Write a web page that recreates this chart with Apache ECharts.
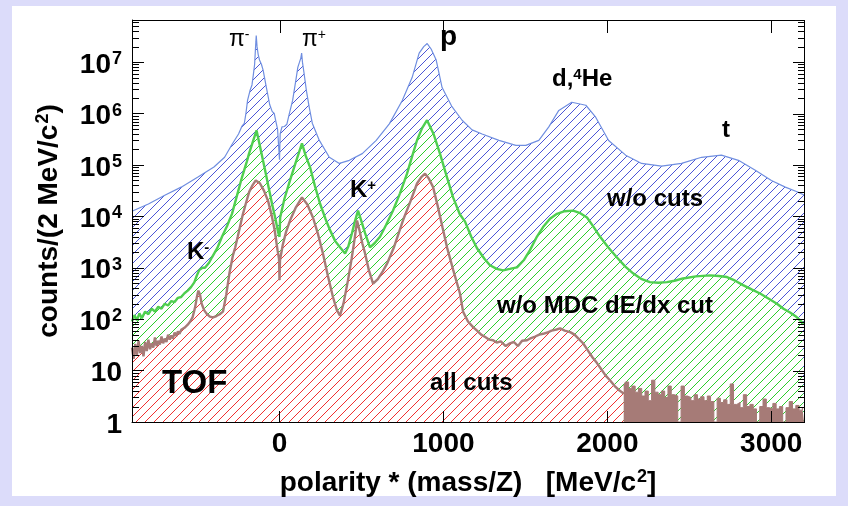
<!DOCTYPE html>
<html>
<head>
<meta charset="utf-8">
<script src="https://cdn.jsdelivr.net/npm/echarts@6/dist/echarts.min.js"></script>
<style>
  html, body { margin: 0; padding: 0; background: #dcdcfa; }
  #chart { width: 848px; height: 506px; }
</style>
</head>
<body>
<div id="chart"></div>
<script>
// Mass spectrum (polarity * mass/Z) from TOF, three selection levels.
const noCutsMass = [-900,-800,-700,-600,-500,-400,-335,-290,-250,-230,-215,-205,-195,-180,-168,-160,-152,-146,-142,-137,-130,-122,-110,-100,-80,-60,-45,-32,-22,-12,-4,0,4,15,30,45,60,80,100,112,122,130,135,140,150,164,180,200,243,304,365,426,505,590,670,749,809,852,880,901,925,956,992,1050,1114,1175,1236,1339,1442,1503,1582,1643,1704,1783,1869,1929,2008,2112,2209,2331,2453,2575,2696,2800,2903,3001,3086,3165,3200];
const noCutsCounts = [12600,17400,25700,37000,57500,91000,141000,250000,400000,560000,640000,1000000,1800000,2800000,3600000,5600000,9000000,20000000,33000000,20000000,14000000,11000000,9000000,7000000,3200000,1500000,1100000,1000000,700000,500000,200000,126000,400000,550000,560000,620000,1000000,1800000,4500000,8000000,10000000,12000000,15000000,10000000,6000000,2800000,1400000,650000,300000,141000,107000,123000,166000,300000,630000,1800000,5000000,15000000,20000000,23000000,18000000,11000000,3200000,1400000,740000,480000,400000,300000,240000,240000,300000,550000,1150000,1660000,1450000,850000,300000,155000,107000,95000,107000,141000,155000,123000,79000,50000,37000,29500,26000];

const noMdcMass = [-900,-885,-870,-855,-840,-820,-800,-780,-760,-740,-720,-700,-680,-660,-640,-620,-600,-580,-560,-540,-520,-505,-490,-470,-455,-430,-412,-380,-351,-320,-290,-260,-229,-200,-186,-160,-140,-115,-88,-65,-46,-25,-9,0,4,30,64,100,137,160,186,215,247,280,308,340,369,400,420,442,460,479,500,522,552,580,613,650,692,735,778,810,839,870,900,940,979,1020,1059,1100,1132,1170,1205,1250,1284,1325,1364,1405,1449,1490,1528,1570,1608,1650,1693,1740,1791,1835,1876,1915,1956,2005,2059,2110,2157,2210,2260,2310,2364,2410,2462,2540,2627,2680,2730,2780,2828,2880,2932,2985,3035,3075,3115,3155,3188,3200];
const noMdcCounts = [90,120,95,130,105,140,125,160,140,175,160,200,185,225,215,260,270,320,360,420,520,700,900,1000,1000,1250,1600,2400,4000,6500,11200,25000,57500,115000,166000,300000,470000,200000,79000,35000,17800,9000,5000,4000,9500,22000,50000,115000,263000,150000,91000,40000,17800,9000,5400,3300,2500,1900,2600,4700,8000,12900,8000,4700,2500,3000,4000,6800,12900,28000,67600,150000,302000,520000,741000,400000,166000,60000,23400,11000,7900,4000,2400,1500,1120,950,890,950,1020,1400,2200,4000,6200,9000,11200,12600,12900,11500,9500,6300,4000,2500,1580,1050,780,600,525,510,525,560,620,680,710,690,660,560,460,380,316,250,200,160,135,110,87,82];

const allCutsMass = [-900,-890,-880,-870,-860,-850,-840,-830,-820,-810,-800,-790,-780,-770,-760,-750,-740,-730,-720,-710,-700,-690,-680,-670,-660,-650,-640,-630,-620,-610,-600,-590,-580,-570,-560,-545,-530,-515,-505,-495,-485,-475,-460,-445,-425,-405,-385,-365,-345,-325,-305,-285,-270,-255,-240,-223,-205,-185,-165,-145,-120,-95,-70,-50,-30,-12,-3,0,3,20,40,64,100,137,170,204,235,265,295,326,350,369,390,418,440,460,473,490,505,522,545,571,600,630,656,700,753,800,839,865,888,910,937,965,995,1022,1060,1101,1120,1150,1181,1205,1230,1255,1280,1303,1325,1350,1380,1406,1430,1455,1480,1510,1535,1560,1585,1608,1635,1660,1690,1712,1740,1773,1800,1830,1852,1880,1910,1937,1960,1990,2016,2045,2070,2100];
const allCutsCounts = [28,17,33,20,38,22,30,19,36,24,40,26,34,28,44,30,38,32,46,34,42,36,50,40,48,42,55,47,58,52,62,58,68,70,78,90,110,170,260,360,300,200,150,128,112,108,115,125,140,300,800,1700,2500,4000,6500,11200,18000,30000,40000,50000,44000,31600,20000,11200,5500,2200,1500,575,1400,2800,5000,8300,15000,23400,17000,9500,4500,1900,700,270,150,117,200,575,1500,4000,8300,5000,3000,1900,900,490,600,850,1200,2600,8300,20000,43600,58000,67600,55000,37000,16000,6000,2500,900,316,140,90,70,60,50,45,40,39,35,37,30,34,36,30,38,39,43,46,50,52,55,60,63,66,60,56,50,40,34,25,18,14,11,8,6.5,5,4.2,3.6];

// sparse high-mass tail of the fully selected sample
const allCutsTailMass = [2100,2120,2140,2160,2180,2200,2220,2240,2260,2280,2300,2320,2340,2360,2380,2400,2420,2440,2460,2480,2500,2520,2540,2560,2580,2600,2620,2640,2660,2680,2700,2720,2740,2760,2780,2800,2820,2840,2860,2880,2900,2920,2940,2960,2980,3000,3020,3040,3060,3080,3100,3120,3140,3160,3180,3200];
const allCutsTailCounts = [5,6,4.5,5,3.8,4.5,3.2,4,2.6,6.5,3.8,3.4,4,3,5,3.4,3.2,1,5,3.2,3,2.6,3.4,2.8,3.1,2.6,3.2,2.5,1,2.9,2.4,2.7,2.2,5.5,2.2,2.4,1.9,3.4,2,2.2,1.8,1,2,2.8,1.9,1.8,2.3,1.8,2,1,1.9,2.5,1.8,2.1,1.7,1.9];

const xRange = [-900, 3200];
const yRange = [1, 6.6e7];
const xTickValues = [0, 1000, 2000, 3000];
const yMinorTicks = [];
for (let d = 1; d <= 1e7; d *= 10) {
  for (let k = 2; k <= 9; k++) { if (k * d <= yRange[1]) yMinorTicks.push(k * d); }
}

const FONT = "'Liberation Sans', Arial, Helvetica, sans-serif";

function zip(xs, ys) { return xs.map((x, i) => [x, ys[i]]); }

// diagonal hatch fill on white, like ROOT fill style 3004
function hatch(color) {
  const s = 9;
  const c = document.createElement('canvas');
  c.width = s; c.height = s;
  const g = c.getContext('2d');
  g.fillStyle = '#ffffff';
  g.fillRect(0, 0, s, s);
  g.strokeStyle = color;
  g.lineWidth = 1;
  g.beginPath();
  g.moveTo(0, s); g.lineTo(s, 0);
  g.moveTo(-1, 1); g.lineTo(1, -1);
  g.moveTo(s - 1, s + 1); g.lineTo(s + 1, s - 1);
  g.stroke();
  return { image: c, repeat: 'repeat' };
}

const chart = echarts.init(document.getElementById('chart'), null, { renderer: 'canvas' });

// decade labels only: 1, 10, 10^2 ... 10^7
function yLabel(v) {
  const e = Math.log10(v);
  if (Math.abs(e - Math.round(e)) > 1e-9) return '';
  const n = Math.round(e);
  if (n === 0) return '{b|1}';
  if (n === 1) return '{b|10}';
  return '{b|10}{s|' + n + '}';
}
function xLabel(v) {
  return xTickValues.indexOf(v) >= 0 ? String(v) : '';
}

const supRich = {
  t: { fontSize: 28, fontWeight: 'bold', fontFamily: FONT, color: '#000', lineHeight: 28, padding: [6, 0, 0, 0] },
  b: { fontSize: 28, fontWeight: 'bold', fontFamily: FONT, color: '#000', lineHeight: 28, padding: [6, 0, 0, 0] },
  s: { fontSize: 18, fontWeight: 'bold', fontFamily: FONT, color: '#000', lineHeight: 18, verticalAlign: 'top', padding: [2, 0, 0, 1] }
};

const yAxisOpt = {
  type: 'log', logBase: 10, min: yRange[0], max: yRange[1], position: 'left', z: 10,
  axisLine: { show: true, onZero: false, lineStyle: { color: '#000', width: 1 } },
  axisTick: { show: true, inside: true, length: 12, lineStyle: { color: '#000', width: 1 } },
  axisLabel: { show: true, formatter: yLabel, rich: supRich, margin: 10, showMaxLabel: false },
  splitLine: { show: false },
  name: '{t|counts/(2 MeV/c}{s|2}{t|)}',
  nameLocation: 'middle',
  nameGap: 72,
  nameRotate: 90,
  nameTextStyle: { rich: supRich }
};

const xAxisOpt = {
  type: 'value', min: xRange[0], max: xRange[1], position: 'bottom', z: 10,
  axisLine: { show: true, onZero: false, lineStyle: { color: '#000', width: 1 } },
  axisTick: { show: true, inside: true, length: 11, lineStyle: { color: '#000', width: 1 } },
  axisLabel: { show: true, formatter: xLabel, margin: 8, fontSize: 28, fontWeight: 'bold', fontFamily: FONT, color: '#000' },
  splitLine: { show: false },
  name: '{t|polarity * (mass/Z)   [MeV/c}{s|2}{t|]}',
  nameLocation: 'middle',
  nameGap: 34,
  nameTextStyle: { rich: supRich }
};

function areaSeries(name, data, lineColor, lineWidth, fill, extra) {
  return Object.assign({
    name: name,
    type: 'line',
    z: 2,
    data: data,
    showSymbol: false,
    symbol: 'none',
    smooth: false,
    lineStyle: { color: lineColor, width: lineWidth },
    areaStyle: { origin: 'start', color: fill, opacity: 1 },
    animation: false,
    silent: true
  }, extra || {});
}

function txt(id, x, y, parts, rich) {
  return {
    id: id, type: 'text', x: x, y: y, z: 100, silent: true,
    style: { text: parts, rich: rich, align: 'left', verticalAlign: 'middle' }
  };
}
const labRich = {
  g: { fontSize: 23, fontFamily: FONT, fill: '#000', lineHeight: 23 },
  gs: { fontSize: 14, fontFamily: FONT, fill: '#000', lineHeight: 14, verticalAlign: 'top' },
  b: { fontSize: 24, fontWeight: 'bold', fontFamily: FONT, fill: '#000', lineHeight: 24 },
  bs: { fontSize: 15, fontWeight: 'bold', fontFamily: FONT, fill: '#000', lineHeight: 15, verticalAlign: 'top' },
  p: { fontSize: 28, fontWeight: 'bold', fontFamily: FONT, fill: '#000', lineHeight: 28 },
  c: { fontSize: 24, fontWeight: 'bold', fontFamily: FONT, fill: '#000', lineHeight: 24 },
  big: { fontSize: 33, fontWeight: 'bold', fontFamily: FONT, fill: '#000', lineHeight: 33 }
};

const labels = [
  { type: 'rect', z: -10, shape: { x: 12, y: 6, width: 824, height: 490 }, style: { fill: '#ffffff' } },
  txt('piMinus', 229, 40, '{g|π}{gs|-}', labRich),
  txt('piPlus', 302, 40, '{g|π}{gs|+}', labRich),
  txt('proton', 440, 37, '{p|p}', labRich),
  txt('deuteron', 552, 79, '{b|d,}{bs|4}{b|He}', labRich),
  txt('triton', 722, 130, '{b|t}', labRich),
  txt('kPlus', 350, 190, '{b|K}{bs|+}', labRich),
  txt('kMinus', 187, 252, '{b|K}{bs|-}', labRich),
  txt('labNoCuts', 607, 199, '{c|w/o cuts}', labRich),
  txt('labNoMdc', 497, 306, '{c|w/o MDC dE/dx cut}', labRich),
  txt('labAll', 430, 383, '{c|all cuts}', labRich),
  txt('labTof', 162, 384, '{big|TOF}', labRich)
];

chart.setOption({
  backgroundColor: '#dcdcfa',
  animation: false,
  grid: { left: 132, top: 20, width: 672, height: 402, containLabel: false },
  xAxis: xAxisOpt,
  yAxis: yAxisOpt,
  series: [
    areaSeries('w/o cuts', zip(noCutsMass, noCutsCounts), '#6f8ee0', 1.2, hatch('#4b55d6')),
    areaSeries('w/o MDC dE/dx cut', zip(noMdcMass, noMdcCounts), '#4fcf4f', 2.4, hatch('#2ccc2c')),
    areaSeries('all cuts', zip(allCutsMass, allCutsCounts), '#a67b77', 2.4, hatch('#f03030')),
    areaSeries('all cuts tail', zip(allCutsTailMass, allCutsTailCounts), '#a67b77', 1, '#a67b77', { step: 'middle' })
  ],
  graphic: labels
});

// top and right frame edges with mirrored ticks, plus minor log ticks,
// placed through the axis scales
const L = chart.convertToPixel({ xAxisIndex: 0 }, xRange[0]);
const R = chart.convertToPixel({ xAxisIndex: 0 }, xRange[1]);
const B = chart.convertToPixel({ yAxisIndex: 0 }, yRange[0]);
const T = chart.convertToPixel({ yAxisIndex: 0 }, yRange[1]);
if ([L, R, B, T].every(Number.isFinite)) {
  const frame = [];
  const bar = (x, y, w, h) => frame.push({ type: 'rect', z: 60, silent: true,
    shape: { x: Math.round(x), y: Math.round(y), width: w, height: h }, style: { fill: '#000' } });
  bar(L, T, R - L + 1, 1);
  bar(R, T, 1, B - T + 1);
  for (let n = 0; n <= 7; n++) {
    const py = chart.convertToPixel({ yAxisIndex: 0 }, Math.pow(10, n));
    bar(R - 11, py, 12, 1);
  }
  yMinorTicks.forEach(v => {
    const py = chart.convertToPixel({ yAxisIndex: 0 }, v);
    bar(L, py, 7, 1);
    bar(R - 6, py, 7, 1);
  });
  xTickValues.forEach(v => {
    const px = chart.convertToPixel({ xAxisIndex: 0 }, v);
    bar(px, T, 1, 13);
  });
  chart.setOption({ graphic: labels.concat(frame) });
}
</script>
</body>
</html>
